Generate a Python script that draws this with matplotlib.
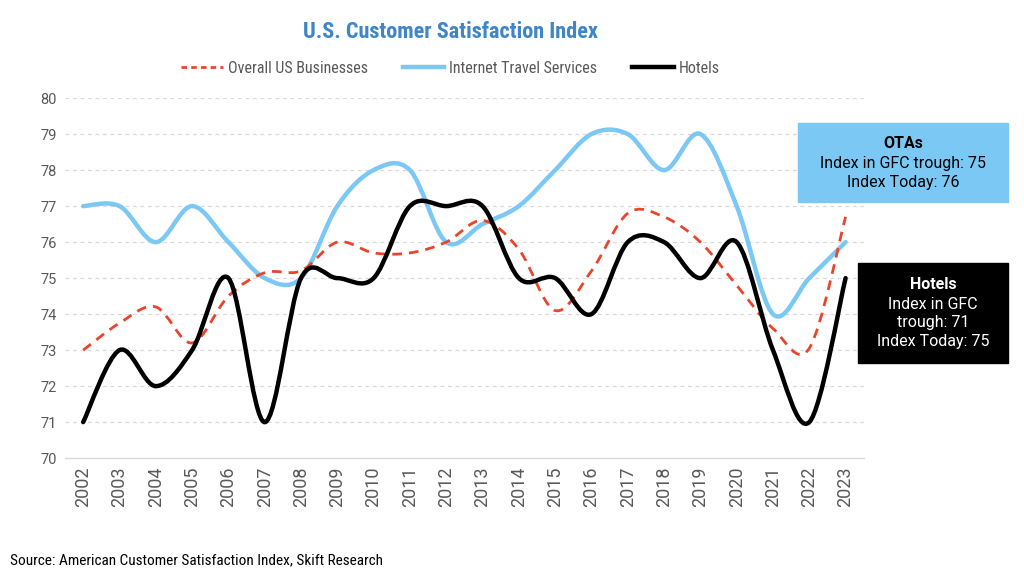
import matplotlib
matplotlib.use("Agg")
import matplotlib.pyplot as plt
from matplotlib.path import Path
from matplotlib.patches import PathPatch
from matplotlib.lines import Line2D
from matplotlib import font_manager
import numpy as np

# data
years = list(range(2002, 2024))
overall_us = [73.0, 73.75, 74.2, 73.2, 74.5, 75.15, 75.2, 76.0, 75.7, 75.7, 76.0, 76.6,
              75.8, 74.1, 75.2, 76.8, 76.7, 76.0, 74.8, 73.6, 73.05, 76.7]
internet_travel = [77, 77, 76, 77, 76, 75, 75, 77, 78, 78, 76, 76.5,
                   77, 78, 79, 79, 78, 79, 77, 74, 75, 76]
hotels = [71, 73, 72, 73, 75, 71, 75, 75, 75, 77, 77, 77,
          75, 75, 74, 76, 76, 75, 76, 73, 71, 75]
y_ticks = list(range(70, 81))

names = {f.name for f in font_manager.fontManager.ttflist}
cond = 'Roboto Condensed' if 'Roboto Condensed' in names else (
    'Liberation Sans Narrow' if 'Liberation Sans Narrow' in names else 'Roboto')
plt.rcParams['font.family'] = ['Roboto', 'DejaVu Sans']


def smooth_path(xs, ys):
    # excel style smoothed line: cubic bezier segments (catmull-rom control points)
    xs = np.asarray(xs, float)
    ys = np.asarray(ys, float)
    pts = np.column_stack([xs, ys])
    verts = [pts[0]]
    codes = [Path.MOVETO]
    n = len(pts)
    for i in range(n - 1):
        p0 = pts[i - 1] if i > 0 else pts[i]
        p1 = pts[i]
        p2 = pts[i + 1]
        p3 = pts[i + 2] if i + 2 < n else pts[i + 1]
        c1 = p1 + (p2 - p0) / 6
        c2 = p2 - (p3 - p1) / 6
        verts += [c1, c2, p2]
        codes += [Path.CURVE4] * 3
    return Path(verts, codes)


fig = plt.figure(figsize=(10.24, 5.77), dpi=100)
ax = fig.add_axes([0.0635, 0.206, 0.78, 0.624])

red = '#E8452C'
blue = '#7CC8F4'

ax.add_patch(PathPatch(smooth_path(years, internet_travel), fill=False,
                       edgecolor=blue, lw=3.2, capstyle='round', zorder=3))
ax.add_patch(PathPatch(smooth_path(years, overall_us), fill=False,
                       edgecolor=red, lw=2.0, linestyle=(0, (3.5, 2.5)), zorder=4))
ax.add_patch(PathPatch(smooth_path(years, hotels), fill=False,
                       edgecolor='black', lw=3.2, capstyle='round', zorder=5))

ax.set_xlim(2001.5, 2023.5)
ax.set_ylim(70, 80)
ax.set_yticks(y_ticks)
ax.set_xticks(years)
ax.set_xticklabels([str(y) for y in years], rotation=90, fontsize=13, color='#595959')
ax.set_yticklabels([str(v) for v in y_ticks], fontsize=10.5, color='#595959')
ax.tick_params(length=0, pad=6)
for v in y_ticks[1:]:
    ax.axhline(v, color='#D9D9D9', lw=0.9, ls=(0, (3, 3)), zorder=1)
for s in ['top', 'right', 'left']:
    ax.spines[s].set_visible(False)
ax.spines['bottom'].set_color('#D9D9D9')
ax.spines['bottom'].set_linewidth(1.0)

fig.text(0.44, 0.945, 'U.S. Customer Satisfaction Index', ha='center', va='center',
         fontsize=16, fontweight='bold', color='#3F86C8', family=[cond, 'DejaVu Sans'])

handles = [Line2D([], [], color=red, lw=2.0, ls=(0, (2, 1.5))),
           Line2D([], [], color=blue, lw=3.2),
           Line2D([], [], color='black', lw=3.2)]
fig.legend(handles, ['Overall US Businesses', 'Internet Travel Services', 'Hotels'],
           loc='center', bbox_to_anchor=(0.44, 0.882), ncol=3, frameon=False,
           handlelength=2.6, handletextpad=0.3, columnspacing=2.2,
           prop={'family': [cond, 'DejaVu Sans'], 'size': 11.5},
           labelcolor='#595959')

# annotation boxes
fig.patches.append(plt.Rectangle((798 / 1024, 1 - 202 / 577), 210 / 1024, 79 / 577,
                                 transform=fig.transFigure, color=blue, zorder=1))
fig.text(903 / 1024, 1 - 143 / 577, 'OTAs', ha='center', va='center',
         fontsize=11.5, fontweight='bold', color='black')
fig.text(903 / 1024, 1 - 173 / 577, 'Index in GFC trough: 75\nIndex Today: 76',
         ha='center', va='center', fontsize=11.5, color='black', linespacing=1.3)

fig.patches.append(plt.Rectangle((858 / 1024, 1 - 363 / 577), 150 / 1024, 100 / 577,
                                 transform=fig.transFigure, color='black', zorder=1))
fig.text(933 / 1024, 1 - 284 / 577, 'Hotels', ha='center', va='center',
         fontsize=11.5, fontweight='bold', color='white')
fig.text(933 / 1024, 1 - 323 / 577, 'Index in GFC\ntrough: 71\nIndex Today: 75',
         ha='center', va='center', fontsize=11.5, color='white', linespacing=1.3)

fig.text(0.01, 1 - 560 / 577, 'Source: American Customer Satisfaction Index, Skift Research',
         ha='left', va='center', fontsize=11, color='black', family=[cond, 'DejaVu Sans'])

fig.savefig('out.png', dpi=100, facecolor='white')
